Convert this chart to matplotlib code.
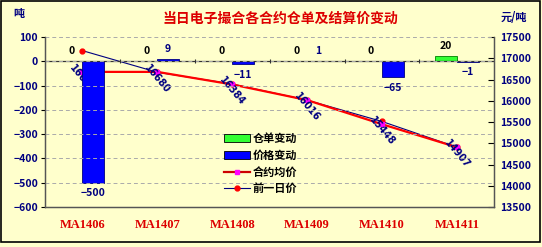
import numpy as np
import matplotlib
matplotlib.use('Agg')
import matplotlib.pyplot as plt
from matplotlib.lines import Line2D
from matplotlib.patches import Patch, Rectangle

plt.rcParams['font.family'] = ['Noto Sans CJK SC', 'DejaVu Sans']
plt.rcParams['axes.unicode_minus'] = True

BG = '#FFFFCC'
NAVY = '#000080'

cats = ['MA1406', 'MA1407', 'MA1408', 'MA1409', 'MA1410', 'MA1411']
receipt_chg = [0, 0, 0, 0, 0, 20]
price_chg = [-500, 9, -11, 1, -65, -1]
avg_price = [16680, 16680, 16384, 16016, 15448, 14907]
prev_price = [17180, 16671, 16395, 16015, 15513, 14908]

x = np.arange(len(cats))
width = 0.29

fig = plt.figure(figsize=(5.42, 2.47), dpi=100, facecolor=BG)
ax = fig.add_axes([0.083, 0.162, 0.829, 0.688])
ax2 = ax.twinx()
# bars above the price lines
ax.set_zorder(ax2.get_zorder() + 1)
ax.patch.set_visible(False)

ax.bar(x - width / 2, receipt_chg, width, color='#33FF33', edgecolor='#008000', linewidth=0.6)
ax.bar(x + width / 2, price_chg, width, color='#0000FF', edgecolor=NAVY, linewidth=0.6)

for xi, v in zip(x - width / 2, receipt_chg):
    ax.annotate(str(v), (xi, v), xytext=(0, 4), textcoords='offset points',
                ha='center', va='bottom', fontsize=7.5, fontweight='bold', color='black')
for xi, v in zip(x + width / 2, price_chg):
    off = 4 if v > 0 else -4
    ax.annotate(str(v).replace('-', '\u2212'), (xi, v), xytext=(0, off), textcoords='offset points',
                ha='center', va='bottom' if v > 0 else 'top', fontsize=7.5,
                fontweight='bold', color=NAVY)

ax2.plot(x, prev_price, color=NAVY, lw=0.8, marker='o', ms=3.5, mfc='#FF0000', mec='#FF0000')
ax2.plot(x, avg_price, color='#FF0000', lw=1.6, marker='s', ms=3, mfc='#FF00FF', mec='#FF00FF')
for xi, v in zip(x, avg_price):
    ax2.annotate(str(v), (xi, v), xytext=(0, -5), textcoords='offset points',
                 ha='center', va='center', rotation=-50, fontsize=7,
                 fontweight='bold', color=NAVY, family='DejaVu Sans')

ax.set_xlim(-0.5, len(cats) - 0.5)
ax.set_ylim(-600, 100)
ax.set_yticks(np.arange(-600, 101, 100))
ax2.set_ylim(13500, 17500)
ax2.set_yticks(np.arange(13500, 17501, 500))

ax.axhline(0, color='#333333', lw=0.9, zorder=1)
ax.vlines(np.arange(0.5, len(cats) - 0.5), -8, 8, color='#333333', lw=0.8)
ax.yaxis.grid(True, ls=(0, (4, 3)), color='#AAAAAA', lw=0.7)

ax.set_xticks(x)
ax.set_xticklabels(cats, color='#DD0000', fontsize=9, fontweight='bold', family='Liberation Serif')
ax.tick_params(axis='x', length=0, pad=9)
ax.tick_params(axis='y', labelsize=7.5, labelcolor=NAVY, length=3, direction='out', pad=2)
for t in ax.get_yticklabels():
    t.set_fontweight('bold')
ax2.tick_params(axis='y', labelsize=7.5, labelcolor=NAVY, length=4, direction='in', pad=4)
for t in ax2.get_yticklabels():
    t.set_fontweight('bold')

for a in (ax, ax2):
    a.spines['top'].set_visible(False)
    for s in ('left', 'right', 'bottom'):
        a.spines[s].set_color('#555555')
        a.spines[s].set_linewidth(0.9)

handles = [Patch(facecolor='#33FF33', edgecolor='black', linewidth=0.6),
           Patch(facecolor='#0000FF', edgecolor='black', linewidth=0.6),
           Line2D([], [], color='#CC0000', lw=1.6, marker='s', ms=3.5, mfc='#FF00FF', mec='#FF00FF'),
           Line2D([], [], color=NAVY, lw=0.8, marker='o', ms=3.5, mfc='#FF0000', mec='#FF0000')]
labels = ['仓单变动', '价格变动', '合约均价', '前一日价']
fig.legend(handles, labels, loc='upper left', bbox_to_anchor=(0.405, 0.485), frameon=False,
           prop={'size': 8, 'weight': 'bold'}, handlelength=2.3, handleheight=0.7,
           labelspacing=0.35, handletextpad=0.3, borderaxespad=0)

fig.text(0.517, 0.925, '当日电子撮合各合约仓单及结算价变动', ha='center', va='center',
         fontsize=10, fontweight='bold', color='#DD0000')
fig.text(0.035, 0.945, '吨', ha='center', va='center', fontsize=8, fontweight='bold', color=NAVY)
fig.text(0.948, 0.93, '元/吨', ha='center', va='center', fontsize=8, fontweight='bold', color=NAVY)

fig.patches.append(Rectangle((0.002, 0.02), 0.994, 0.976, transform=fig.transFigure,
                             fill=False, edgecolor='black', lw=1.2))

fig.savefig('out.png', dpi=100, facecolor=BG)
